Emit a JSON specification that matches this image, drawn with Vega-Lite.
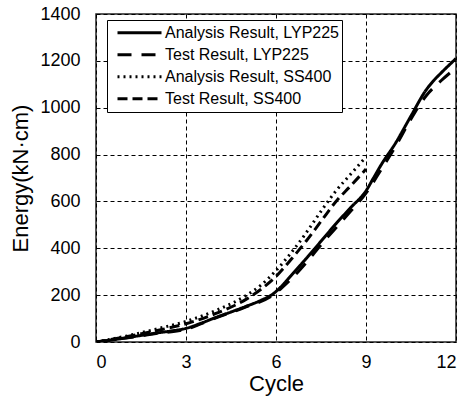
{
  "$schema": "https://vega.github.io/schema/vega-lite/v6.json",
  "width": 360,
  "height": 328,
  "autosize": {"type": "none"},
  "padding": {"left": 96, "top": 14, "right": 13, "bottom": 61},
  "background": "white",
  "config": {
    "font": "Liberation Sans",
    "view": {"stroke": "#222", "strokeWidth": 1.5},
    "axis": {
      "domain": false,
      "ticks": true,
      "tickSize": 0,
      "tickOpacity": 0,
      "grid": true,
      "gridColor": "black",
      "gridDash": [4, 3],
      "gridWidth": 1,
      "gridOpacity": 1,
      "labelFont": "Liberation Sans",
      "labelFontSize": 18,
      "labelColor": "black",
      "titleFont": "Liberation Sans",
      "titleFontSize": 22,
      "titleFontWeight": "normal",
      "titleColor": "black"
    }
  },
  "data": {
    "values": [
      {"series": "Analysis Result, LYP225", "cycle": 0, "energy": 0},
      {"series": "Analysis Result, LYP225", "cycle": 0.5, "energy": 8},
      {"series": "Analysis Result, LYP225", "cycle": 1, "energy": 18},
      {"series": "Analysis Result, LYP225", "cycle": 1.5, "energy": 28},
      {"series": "Analysis Result, LYP225", "cycle": 2, "energy": 38},
      {"series": "Analysis Result, LYP225", "cycle": 2.5, "energy": 47},
      {"series": "Analysis Result, LYP225", "cycle": 3, "energy": 58},
      {"series": "Analysis Result, LYP225", "cycle": 3.5, "energy": 80},
      {"series": "Analysis Result, LYP225", "cycle": 4, "energy": 105},
      {"series": "Analysis Result, LYP225", "cycle": 4.5, "energy": 128},
      {"series": "Analysis Result, LYP225", "cycle": 5, "energy": 152},
      {"series": "Analysis Result, LYP225", "cycle": 5.5, "energy": 178},
      {"series": "Analysis Result, LYP225", "cycle": 5.9, "energy": 205},
      {"series": "Analysis Result, LYP225", "cycle": 6.2, "energy": 240},
      {"series": "Analysis Result, LYP225", "cycle": 6.5, "energy": 283},
      {"series": "Analysis Result, LYP225", "cycle": 7, "energy": 355},
      {"series": "Analysis Result, LYP225", "cycle": 7.5, "energy": 430},
      {"series": "Analysis Result, LYP225", "cycle": 8, "energy": 505},
      {"series": "Analysis Result, LYP225", "cycle": 8.5, "energy": 575},
      {"series": "Analysis Result, LYP225", "cycle": 9, "energy": 645},
      {"series": "Analysis Result, LYP225", "cycle": 9.25, "energy": 700},
      {"series": "Analysis Result, LYP225", "cycle": 9.5, "energy": 755},
      {"series": "Analysis Result, LYP225", "cycle": 10, "energy": 852},
      {"series": "Analysis Result, LYP225", "cycle": 10.5, "energy": 965},
      {"series": "Analysis Result, LYP225", "cycle": 11, "energy": 1075},
      {"series": "Analysis Result, LYP225", "cycle": 11.25, "energy": 1115},
      {"series": "Analysis Result, LYP225", "cycle": 11.5, "energy": 1148},
      {"series": "Analysis Result, LYP225", "cycle": 12, "energy": 1210},

      {"series": "Test Result, LYP225", "cycle": 0, "energy": 0},
      {"series": "Test Result, LYP225", "cycle": 1, "energy": 17},
      {"series": "Test Result, LYP225", "cycle": 2, "energy": 36},
      {"series": "Test Result, LYP225", "cycle": 3, "energy": 55},
      {"series": "Test Result, LYP225", "cycle": 4, "energy": 103},
      {"series": "Test Result, LYP225", "cycle": 5, "energy": 150},
      {"series": "Test Result, LYP225", "cycle": 5.9, "energy": 200},
      {"series": "Test Result, LYP225", "cycle": 6.2, "energy": 232},
      {"series": "Test Result, LYP225", "cycle": 6.5, "energy": 268},
      {"series": "Test Result, LYP225", "cycle": 7, "energy": 338},
      {"series": "Test Result, LYP225", "cycle": 7.5, "energy": 415},
      {"series": "Test Result, LYP225", "cycle": 8, "energy": 488},
      {"series": "Test Result, LYP225", "cycle": 8.5, "energy": 560},
      {"series": "Test Result, LYP225", "cycle": 9, "energy": 635},
      {"series": "Test Result, LYP225", "cycle": 9.5, "energy": 735},
      {"series": "Test Result, LYP225", "cycle": 10, "energy": 838},
      {"series": "Test Result, LYP225", "cycle": 10.5, "energy": 952},
      {"series": "Test Result, LYP225", "cycle": 11, "energy": 1050},
      {"series": "Test Result, LYP225", "cycle": 11.5, "energy": 1115},
      {"series": "Test Result, LYP225", "cycle": 12, "energy": 1170},

      {"series": "Analysis Result, SS400", "cycle": 0, "energy": 0},
      {"series": "Analysis Result, SS400", "cycle": 1, "energy": 25},
      {"series": "Analysis Result, SS400", "cycle": 2, "energy": 55},
      {"series": "Analysis Result, SS400", "cycle": 3, "energy": 88},
      {"series": "Analysis Result, SS400", "cycle": 4, "energy": 135},
      {"series": "Analysis Result, SS400", "cycle": 5, "energy": 198},
      {"series": "Analysis Result, SS400", "cycle": 5.5, "energy": 243},
      {"series": "Analysis Result, SS400", "cycle": 6, "energy": 305},
      {"series": "Analysis Result, SS400", "cycle": 6.5, "energy": 380},
      {"series": "Analysis Result, SS400", "cycle": 7, "energy": 465},
      {"series": "Analysis Result, SS400", "cycle": 7.5, "energy": 558},
      {"series": "Analysis Result, SS400", "cycle": 8, "energy": 645},
      {"series": "Analysis Result, SS400", "cycle": 8.5, "energy": 718},
      {"series": "Analysis Result, SS400", "cycle": 9, "energy": 790},

      {"series": "Test Result, SS400", "cycle": 0, "energy": 0},
      {"series": "Test Result, SS400", "cycle": 1, "energy": 22},
      {"series": "Test Result, SS400", "cycle": 2, "energy": 48},
      {"series": "Test Result, SS400", "cycle": 3, "energy": 78},
      {"series": "Test Result, SS400", "cycle": 4, "energy": 122},
      {"series": "Test Result, SS400", "cycle": 5, "energy": 182},
      {"series": "Test Result, SS400", "cycle": 5.5, "energy": 225},
      {"series": "Test Result, SS400", "cycle": 6, "energy": 280},
      {"series": "Test Result, SS400", "cycle": 6.5, "energy": 352},
      {"series": "Test Result, SS400", "cycle": 7, "energy": 430},
      {"series": "Test Result, SS400", "cycle": 7.5, "energy": 515},
      {"series": "Test Result, SS400", "cycle": 8, "energy": 600},
      {"series": "Test Result, SS400", "cycle": 8.5, "energy": 668},
      {"series": "Test Result, SS400", "cycle": 9, "energy": 738}
    ]
  },
  "mark": {"type": "line", "color": "black", "interpolate": "monotone", "clip": true},
  "encoding": {
    "x": {
      "field": "cycle",
      "type": "quantitative",
      "scale": {"domain": [0, 12], "nice": false},
      "axis": {"values": [0, 3, 6, 9, 12], "format": "d", "title": "Cycle", "labelPadding": 11, "titlePadding": 2, "grid": true}
    },
    "y": {
      "field": "energy",
      "type": "quantitative",
      "scale": {"domain": [0, 1400], "nice": false},
      "axis": {"values": [0, 200, 400, 600, 800, 1000, 1200, 1400], "format": "d", "title": "Energy(kN·cm)", "labelPadding": 16, "titlePadding": 7, "grid": true}
    },
    "strokeDash": {
      "field": "series",
      "type": "nominal",
      "scale": {
        "domain": ["Analysis Result, LYP225", "Test Result, LYP225", "Analysis Result, SS400", "Test Result, SS400"],
        "range": [[1, 0], [14, 10], [2, 4], [10, 5]]
      },
      "legend": {
        "title": null,
        "orient": "none",
        "legendX": 11,
        "legendY": 6,
        "strokeColor": "black",
        "fillColor": "white",
        "padding": 2,
        "symbolOffset": 7,
        "symbolType": "stroke",
        "symbolSize": 1936,
        "symbolStrokeWidth": 3,
        "symbolStrokeColor": "black",
        "labelFontSize": 16,
        "labelColor": "black",
        "labelFont": "Liberation Sans",
        "labelOffset": 2,
        "clipHeight": 21.5,
        "rowPadding": 0,
        "labelLimit": 300
      }
    },
    "strokeWidth": {
      "field": "series",
      "type": "nominal",
      "scale": {
        "domain": ["Analysis Result, LYP225", "Test Result, LYP225", "Analysis Result, SS400", "Test Result, SS400"],
        "range": [3, 3, 2.5, 3]
      },
      "legend": null
    }
  }
}
